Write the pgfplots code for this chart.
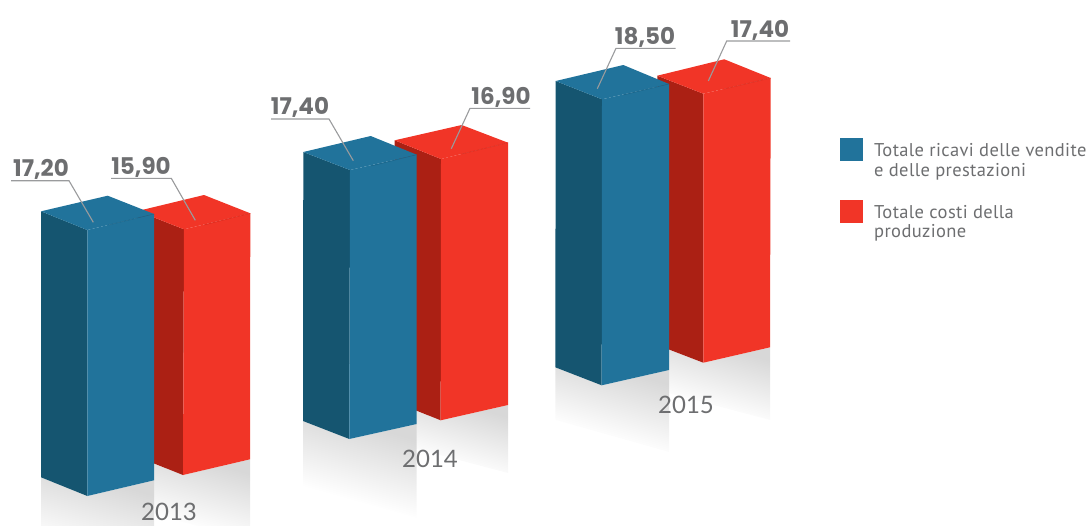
\documentclass[border=0pt]{standalone}
\usepackage{pgfplots}
\pgfplotsset{compat=1.18}
\usepackage{fontspec}
\setmainfont{Lato}
\newfontfamily\numf{Poppins}
\newfontfamily\legf[LetterSpace=2]{PT Sans}
\newfontfamily\yearf{Lato}
\definecolor{bfront}{HTML}{21739B}
\definecolor{bside}{HTML}{155570}
\definecolor{bseam}{HTML}{1B6488}
\definecolor{rfront}{HTML}{F13527}
\definecolor{rside}{HTML}{AB2014}
\definecolor{rseam}{HTML}{D92C1F}
\definecolor{txt}{HTML}{6D6E70}
\definecolor{leader}{HTML}{9A9B9D}
\definecolor{shad}{HTML}{D8D8D8}
\pgfdeclareverticalshading{refl}{100bp}{color(0bp)=(white); color(34bp)=(white); color(72bp)=(shad); color(100bp)=(shad)}
\pgfplotsset{
  face/.style={fill=#1,draw=none,mark=none,forget plot},
  shadow/.style={draw=none,mark=none,forget plot,shade,shading=refl,shading angle=-16},
  lead/.style={draw=leader,line width=1.1pt,mark=none,forget plot},
  seam/.style={draw=#1,line width=.5pt,mark=none,forget plot},
}
\newcommand{\val}[3]{\node[font=\numf\bfseries\fontsize{23}{24}\selectfont,text=txt] at (axis cs:#1,#2) {#3};}
\newcommand{\yr}[3]{\node[font=\yearf\fontsize{24}{26}\selectfont,text=txt] at (axis cs:#1,#2) {#3};}
\newcommand{\leg}[3]{\node[anchor=west,inner sep=0pt,font=\legf\fontsize{18.5}{20}\selectfont,text=txt] at (axis cs:#1,#2) {#3};}
\begin{document}
\begin{tikzpicture}
\begin{axis}[
  scale only axis,width=1087pt,height=525pt,
  xmin=0,xmax=1087,ymin=0,ymax=525,y dir=reverse,
  hide axis,
]
% ---------- reflections under the bars
\addplot[shadow] coordinates {(137,457)(183,475)(250,459.3)(250,540)(137,510)} -- cycle;
\addplot[shadow] coordinates {(41,477.3)(87.3,496)(154,480.3)(154,570)(41,540)} -- cycle;
\addplot[shadow] coordinates {(394,402)(440.7,420.3)(508,405)(508,473)(394,443)} -- cycle;
\addplot[shadow] coordinates {(303,421)(349.3,439)(416.7,424)(416.7,518)(303,486)} -- cycle;
\addplot[shadow] coordinates {(657,345)(703.3,362.7)(770,347.3)(770,420)(657,390)} -- cycle;
\addplot[shadow] coordinates {(555.3,367.3)(601.7,385.3)(669,370)(669,452)(555.3,420)} -- cycle;
% ---------- 2013 red
\addplot[face=rside] coordinates {(137.7,211)(184,229.3)(183,475)(137.7,457)} -- cycle;
\addplot[face=rfront] coordinates {(184,229.3)(250.3,213.3)(250,459.3)(183,475)} -- cycle;
\addplot[face=rfront] coordinates {(137.7,211)(204,195)(250.3,213.3)(184,229.3)} -- cycle;
\addplot[seam=rseam] coordinates {(204,225)(250.3,213.3)};
% ---------- 2013 blue
\addplot[face=bside] coordinates {(41,211.3)(87.3,230)(87.3,496)(41,477.3)} -- cycle;
\addplot[face=bfront] coordinates {(87.3,230)(154,214)(154,480.3)(87.3,496)} -- cycle;
\addplot[face=bfront] coordinates {(41,211.3)(107.7,195.7)(154,214)(87.3,230)} -- cycle;
\addplot[seam=bseam] coordinates {(108.3,225)(154,214)};
% ---------- 2014 red
\addplot[face=rside] coordinates {(394.7,140.3)(441,159)(440.7,420.3)(394.7,402)} -- cycle;
\addplot[face=rfront] coordinates {(441,159)(508,142.7)(508,405)(440.7,420.3)} -- cycle;
\addplot[face=rfront] coordinates {(394.7,140.3)(461.7,125)(508,142.7)(441,159)} -- cycle;
\addplot[seam=rseam] coordinates {(461.7,154)(508,142.7)};
% ---------- 2014 blue
\addplot[face=bside] coordinates {(303.3,152)(350,170)(349.3,439)(303,421)} -- cycle;
\addplot[face=bfront] coordinates {(350,170)(416.7,154.7)(416.7,424)(349.3,439)} -- cycle;
\addplot[face=bfront] coordinates {(303.3,152)(370.7,136)(416.7,154.7)(350,170)} -- cycle;
\addplot[seam=bseam] coordinates {(371,166)(416.7,154.7)};
% ---------- 2015 red
\addplot[face=rside] coordinates {(657.3,75.7)(703.3,93.7)(703.3,362.7)(657.3,345)} -- cycle;
\addplot[face=rfront] coordinates {(703.3,93.7)(770.7,78)(770,347.3)(703.3,362.7)} -- cycle;
\addplot[face=rfront] coordinates {(657.3,75.7)(724.3,59.3)(770.7,78)(703.3,93.7)} -- cycle;
\addplot[seam=rseam] coordinates {(724,89)(770.7,78)};
% ---------- 2015 blue
\addplot[face=bside] coordinates {(555.7,81)(602,99.3)(601.7,385.3)(555.3,367.3)} -- cycle;
\addplot[face=bfront] coordinates {(602,99.3)(669,84)(669,370)(601.7,385.3)} -- cycle;
\addplot[face=bfront] coordinates {(555.7,81)(623.3,65)(669,84)(602,99.3)} -- cycle;
\addplot[seam=bseam] coordinates {(623,95)(669,84)};
% ---------- leader lines
\addplot[lead] coordinates {(11,180.7)(69,180.7)(93.3,222.3)};
\addplot[lead] coordinates {(111,178.3)(171.3,178.3)(195.3,220.3)};
\addplot[lead] coordinates {(271,119)(329,119)(353.3,160.7)};
\addplot[lead] coordinates {(530,108.3)(470,108.3)(451.3,148.7)};
\addplot[lead] coordinates {(675.7,48.3)(616,48.3)(597.3,88.7)};
\addplot[lead] coordinates {(790,41)(726.7,41)(708.3,81)};
% ---------- legend keys
\addplot[face=bfront] coordinates {(840,138)(863,138)(863,160.7)(840,160.7)} -- cycle;
\addplot[face=rfront] coordinates {(840,200)(863,200)(863,223)(840,223)} -- cycle;
% ---------- texts
\val{41}{169}{17,20}
\val{141}{167}{15,90}
\val{300}{107}{17,40}
\val{501}{97}{16,90}
\val{645}{37}{18,50}
\val{760}{30}{17,40}
\yr{169}{512}{2013}
\yr{430}{459}{2014}
\yr{686}{405}{2015}
\leg{874}{150}{Totale ricavi delle vendite}
\leg{874}{172}{e delle prestazioni}
\leg{874}{212}{Totale costi della}
\leg{874}{233}{produzione}
\end{axis}
\pgfresetboundingbox
\path[use as bounding box] (0,0) rectangle (1087pt,525pt);
\end{tikzpicture}
\end{document}
